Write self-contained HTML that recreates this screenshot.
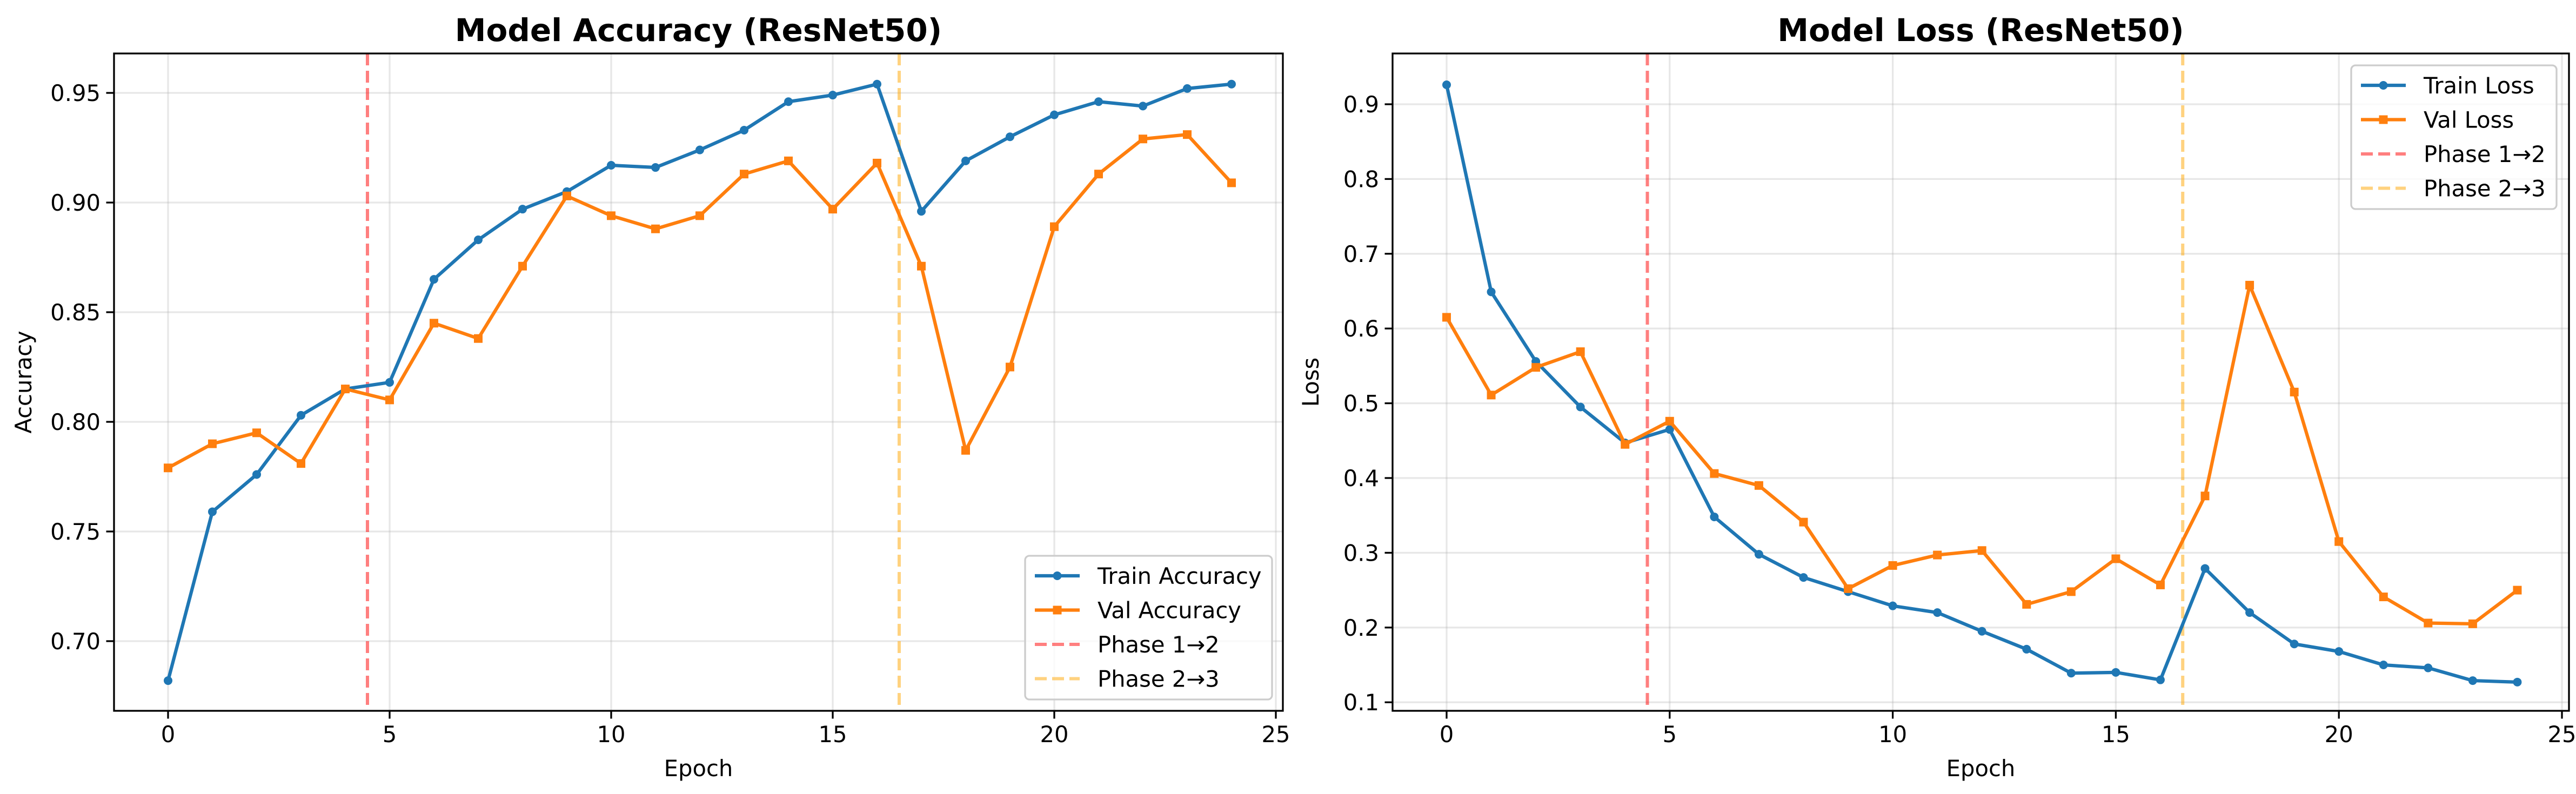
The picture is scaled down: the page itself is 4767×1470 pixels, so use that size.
<!DOCTYPE html>
<html><head><meta charset="utf-8">
<style>
html,body{margin:0;padding:0;background:#fff;}
svg{display:block;font-family:"DejaVu Sans","Liberation Sans",sans-serif;}
</style></head>
<body>
<svg id="chart" width="4767" height="1470" viewBox="0 0 4767 1470" xmlns="http://www.w3.org/2000/svg">
<rect width="4767" height="1470" fill="#fff"/>
</svg>
<script>
const epochs = [0,1,2,3,4,5,6,7,8,9,10,11,12,13,14,15,16,17,18,19,20,21,22,23,24];
const trainAcc = [0.682,0.759,0.776,0.803,0.815,0.818,0.865,0.883,0.897,0.905,0.917,0.916,0.924,0.933,0.946,0.949,0.954,0.896,0.919,0.930,0.940,0.946,0.944,0.952,0.954];
const valAcc = [0.779,0.790,0.795,0.781,0.815,0.810,0.845,0.838,0.871,0.903,0.894,0.888,0.894,0.913,0.919,0.897,0.918,0.871,0.787,0.825,0.889,0.913,0.929,0.931,0.909];
const trainLoss = [0.926,0.649,0.556,0.495,0.447,0.465,0.348,0.298,0.267,0.248,0.229,0.220,0.195,0.171,0.139,0.140,0.130,0.279,0.220,0.178,0.168,0.150,0.146,0.129,0.127];
const valLoss = [0.615,0.511,0.548,0.569,0.445,0.476,0.406,0.390,0.341,0.252,0.283,0.297,0.303,0.231,0.248,0.292,0.257,0.376,0.658,0.515,0.315,0.241,0.206,0.205,0.250];
const xTicks = [0,5,10,15,20,25];
const accTicks = [0.70,0.75,0.80,0.85,0.90,0.95];
const lossTicks = [0.1,0.2,0.3,0.4,0.5,0.6,0.7,0.8,0.9];
const phaseLines = [4.5,16.5];

const NS="http://www.w3.org/2000/svg";
const svg=document.getElementById('chart');
function el(tag,attrs,parent,text){const e=document.createElementNS(NS,tag);for(const k in attrs)e.setAttribute(k,attrs[k]);if(text!==undefined)e.textContent=text;(parent||svg).appendChild(e);return e;}

function panel(cfg){
  const g=el('g',{});
  
  
  const X=v=>cfg.x0+v*cfg.xs;
  const Y=v=>cfg.yRef+(cfg.vRef-v)*cfg.ys;
  // grid
  xTicks.forEach(t=>{const x=X(t);if(x>cfg.L&&x<cfg.R){const l=el('line',{x1:x,x2:x,y1:cfg.T,y2:cfg.B,stroke:'#b0b0b0','stroke-opacity':0.3,'stroke-width':3.3},g);}});
  cfg.yTicks.forEach(t=>{const y=Y(t);const l=el('line',{x1:cfg.L,x2:cfg.R,y1:y,y2:y,stroke:'#b0b0b0','stroke-opacity':0.3,'stroke-width':3.3},g);});
  // phase lines
  const pc=['#ff0000','#ffa500'];
  phaseLines.forEach((p,i)=>{const x=X(p);const l=el('line',{x1:x,x2:x,y1:cfg.T,y2:cfg.B,stroke:pc[i],'stroke-opacity':0.5,'stroke-width':6,'stroke-dasharray':'22 10'},g);});
  // series
  function series(data,color,marker,nm){
    const pts=data.map((v,i)=>X(epochs[i])+','+Y(v)).join(' ');
    const pl=el('polyline',{points:pts,fill:'none',stroke:color,'stroke-width':6.25,'stroke-linejoin':'round'},g);
    
    data.forEach((v,i)=>{let m;if(marker==='o'){m=el('circle',{cx:X(epochs[i]),cy:Y(v),r:8,fill:color},g);}else{m=el('rect',{x:X(epochs[i])-8,y:Y(v)-8,width:16,height:16,fill:color},g);}
      });
  }
  series(cfg.train,'#1f77b4','o','train-'+cfg.kind);
  series(cfg.val,'#ff7f0e','s','val-'+cfg.kind);
  // frame
  const fr=el('rect',{x:cfg.L,y:cfg.T,width:cfg.R-cfg.L,height:cfg.B-cfg.T,fill:'none',stroke:'#000','stroke-width':3.3},g);
  
  // ticks
  xTicks.forEach(t=>{const x=X(t);el('line',{x1:x,x2:x,y1:cfg.B,y2:cfg.B+14.5,stroke:'#000','stroke-width':3.3},g);
    const tx=el('text',{x:x,y:cfg.B+58,'font-size':41.7,'text-anchor':'middle',fill:'#000'},g,String(t));});
  cfg.yTicks.forEach(t=>{const y=Y(t);el('line',{x1:cfg.L-14.5,x2:cfg.L,y1:y,y2:y,stroke:'#000','stroke-width':3.3},g);
    const tx=el('text',{x:cfg.L-25,y:y+15,'font-size':41.7,'text-anchor':'end',fill:'#000'},g,t.toFixed(cfg.dec));});
  // labels
  const xl=el('text',{x:(cfg.L+cfg.R)/2,y:1437,'font-size':41.7,'text-anchor':'middle'},g,'Epoch');
  const yx=cfg.ylx, yc=(cfg.T+cfg.B)/2;
  const yl=el('text',{x:yx,y:yc,'font-size':41.7,'text-anchor':'middle',transform:`rotate(-90 ${yx} ${yc})`},g,cfg.ylabel);
  const ti=el('text',{x:(cfg.L+cfg.R)/2,y:76,'font-size':58,'font-weight':'bold','text-anchor':'middle'},g,cfg.title);
  // legend
  const lg=el('g',{},g);
  el('rect',{x:cfg.lg.x,y:cfg.lg.y,width:cfg.lg.w,height:cfg.lg.h,rx:8,fill:'#fff','fill-opacity':0.8,stroke:'#cccccc','stroke-width':3.3},lg);
  const items=[['#1f77b4','o',1,cfg.names[0]],['#ff7f0e','s',1,cfg.names[1]],['#ff0000','d',0.5,'Phase 1\u21922'],['#ffa500','d',0.5,'Phase 2\u21923']];
  items.forEach((it,i)=>{const cy=cfg.lg.y+37+i*63.5;const hx=cfg.lg.x+18;
    const e=el('g',{},lg);
    if(it[1]==='d'){el('line',{x1:hx,x2:hx+83,y1:cy,y2:cy,stroke:it[0],'stroke-opacity':it[2],'stroke-width':6,'stroke-dasharray':'22 10'},e);}
    else{el('line',{x1:hx,x2:hx+83,y1:cy,y2:cy,stroke:it[0],'stroke-width':6.25},e);
      if(it[1]==='o')el('circle',{cx:hx+41.5,cy:cy,r:8,fill:it[0]},e);else el('rect',{x:hx+33.5,y:cy-8,width:16,height:16,fill:it[0]},e);}
    el('text',{x:hx+116,y:cy+15,'font-size':41.7},e,it[3]);});
}
panel({name:'accuracy-chart',kind:'accuracy',L:211,R:2374,T:99,B:1316,x0:311,xs:82.0,yRef:172,vRef:0.95,ys:4060,
  yTicks:accTicks,dec:2,train:trainAcc,val:valAcc,ylabel:'Accuracy',ylx:58,title:'Model Accuracy (ResNet50)',
  names:['Train Accuracy','Val Accuracy'],lg:{x:1897,y:1029,w:457,h:266}});
panel({name:'loss-chart',kind:'loss',L:2577,R:4754,T:99,B:1316,x0:2677,xs:82.56,yRef:193,vRef:0.9,ys:1384,
  yTicks:lossTicks,dec:1,train:trainLoss,val:valLoss,ylabel:'Loss',ylx:2440,title:'Model Loss (ResNet50)',
  names:['Train Loss','Val Loss'],lg:{x:4351,y:121,w:380,h:266}});
</script>
</body></html>
